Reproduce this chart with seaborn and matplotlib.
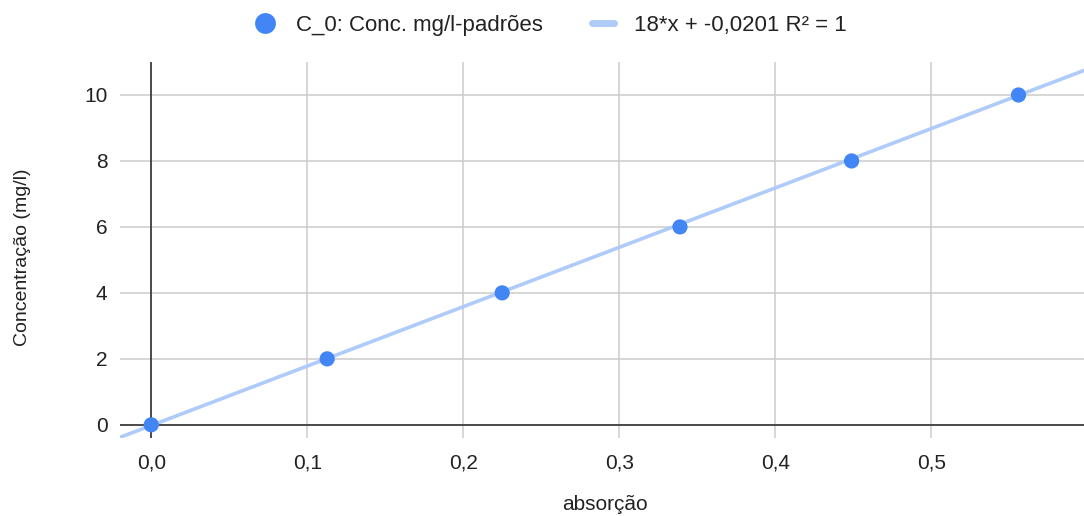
import matplotlib
matplotlib.use("Agg")
import matplotlib.pyplot as plt
import seaborn as sns
import numpy as np
import pandas as pd
from matplotlib.ticker import FuncFormatter, MultipleLocator
from matplotlib.lines import Line2D

absorcao = [0.0, 0.1128, 0.2250, 0.3390, 0.4490, 0.5560]
concentracao = [0, 2, 4, 6, 8, 10]
slope = 18.0
intercept = -0.0201
series_label = "C_0: Conc. mg/l-padrões"
trend_label = "18*x + -0,0201 R² = 1"
x_label = "absorção"
y_label = "Concentração (mg/l)"

sns.set_theme(style="white")
plt.rcParams['font.family'] = ['Liberation Sans', 'DejaVu Sans']

fig = plt.figure(figsize=(10.84, 5.16), dpi=100)
ax = fig.add_axes([120/1084, 78/516, 1 - 120/1084, (438-62)/516])

xlim = (-0.02, 0.598)
ylim = (-0.4, 11.0)
xs = np.array(xlim)
trend = pd.DataFrame({"x": xs, "y": slope * xs + intercept})
pts = pd.DataFrame({"x": absorcao, "y": concentracao})

ax.grid(True, color="#cccccc", linewidth=1.1)
ax.axhline(0, color="#333333", linewidth=1.2, zorder=1.5)
ax.axvline(0, color="#333333", linewidth=1.2, zorder=1.5)
sns.lineplot(data=trend, x="x", y="y", ax=ax, color="#aecbfa", linewidth=2.6, zorder=2)
sns.scatterplot(data=pts, x="x", y="y", ax=ax, color="#4285f4", s=120, edgecolor="none", zorder=3)

ax.set_xlim(*xlim)
ax.set_ylim(*ylim)
ax.xaxis.set_major_locator(MultipleLocator(0.1))
ax.yaxis.set_major_locator(MultipleLocator(2))
ax.xaxis.set_major_formatter(FuncFormatter(lambda v, p: f"{v:.1f}".replace(".", ",")))
ax.yaxis.set_major_formatter(FuncFormatter(lambda v, p: f"{v:.0f}"))
for s in ax.spines.values():
    s.set_visible(False)
ax.tick_params(axis="both", length=0, labelsize=15, colors="#222222")
ax.tick_params(axis="x", pad=11)
ax.tick_params(axis="y", pad=9)
ax.set_xlabel(x_label, fontsize=15, color="#222222", va="center")
ax.xaxis.set_label_coords(0.5 + 3 / 964, -(505 - 438) / 376)
ax.set_ylabel(y_label, fontsize=14, color="#222222")
ax.yaxis.set_label_coords(-(120 - 31) / 964, 0.5 - 7.5 / 376)

handles = [
    Line2D([0], [0], marker="o", color="none", markerfacecolor="#4285f4", markeredgecolor="none", markersize=15),
    Line2D([0], [0], color="#aecbfa", linewidth=5),
]
fig.legend(handles, [series_label, trend_label], loc="center", bbox_to_anchor=(0.508, 1 - 25/516),
           ncol=2, frameon=False, prop={"size": 16}, handlelength=1.0,
           columnspacing=2.2, handletextpad=0.9, labelcolor="#222222")

fig.savefig("out.png", dpi=100)
